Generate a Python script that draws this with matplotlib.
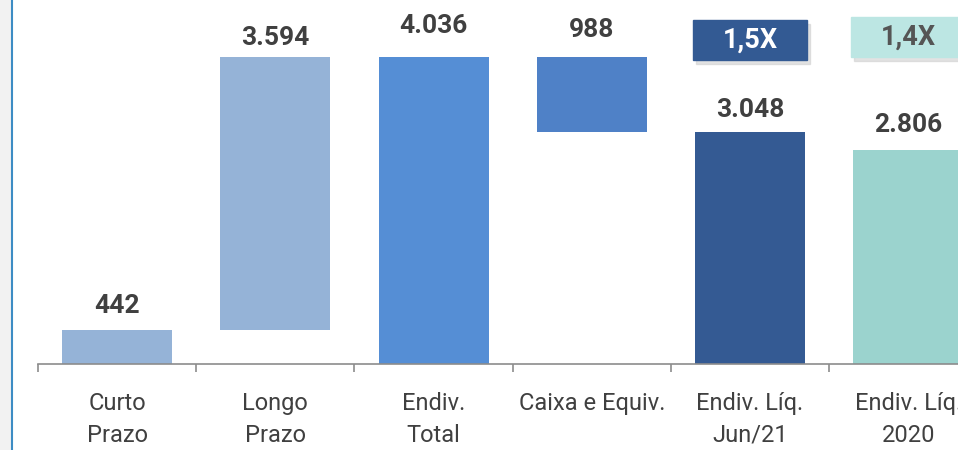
import matplotlib.pyplot as plt
from matplotlib.patches import Rectangle

plt.rcParams['font.family'] = ['Roboto', 'DejaVu Sans']

# Dados (R$ milhões)
categorias = ['Curto\nPrazo', 'Longo\nPrazo', 'Endiv.\nTotal', 'Caixa e Equiv.',
              'Endiv. Líq.\nJun/21', 'Endiv. Líq.\n2020']
valores = [442, 3594, 4036, 988, 3048, 2806]
bases = [0, 442, 0, 3048, 0, 0]
rotulos = ['442', '3.594', '4.036', '988', '3.048', '2.806']
alavancagem = ['1,5X', '1,4X']

cores = ['#95b3d7', '#95b3d7', '#558ed5', '#4f81c7', '#345a93', '#9bd3ce']
pads = [12, 7, 19, 15, 10, 13]

fig = plt.figure(figsize=(9.58, 4.5), dpi=100)
# faixa lateral do slide
fig.patches.append(Rectangle((0, 0), 11 / 958, 1, transform=fig.transFigure,
                             color='#f2f2f2', zorder=0))
fig.lines.append(plt.Line2D([11.5 / 958, 11.5 / 958], [0, 1], transform=fig.transFigure,
                            color='#3d8cc4', lw=1.5))

ax = fig.add_axes([38 / 958, 86 / 450, 1 - 38 / 958, 1 - 86 / 450])
x = list(range(len(valores)))
ax.bar(x, valores, bottom=bases, width=0.695, color=cores, zorder=2)

for i in x:
    topo = bases[i] + valores[i]
    ax.annotate(rotulos[i], (i, topo), xytext=(0, pads[i] / 1.39), textcoords='offset points',
                ha='center', va='bottom', fontsize=19, fontweight='bold', color='#404040')

# caixas de alavancagem
caixas = [(4, 3996, '#335a93', 'white'), (5, 4036, '#bce6e3', '#555555')]
for (i, y0, cor, corTxt), txt in zip(caixas, alavancagem):
    larg, alt = 0.72, 530
    ax.add_patch(Rectangle((i - larg / 2 + 0.02, y0 - 60), larg, alt, color='#d0d0d0',
                           alpha=0.6, zorder=3, clip_on=False))
    ax.add_patch(Rectangle((i - larg / 2, y0), larg, alt, color=cor, zorder=4, clip_on=False))
    ax.text(i, y0 + alt / 2, txt, ha='center', va='center', fontsize=19.5,
            fontweight='bold', color=corTxt, zorder=5)

for s in ['top', 'right', 'left']:
    ax.spines[s].set_visible(False)
ax.spines['bottom'].set_color('#8c8c8c')
ax.spines['bottom'].set_linewidth(1.2)
ax.set_yticks([])
ax.set_xticks(x)
ax.set_xticklabels(categorias, fontsize=17, color='#404040', linespacing=1.5)
ax.tick_params(axis='x', which='major', length=0, pad=20)
ax.set_xticks([i - 0.5 for i in range(len(valores) + 1)], minor=True)
ax.tick_params(axis='x', which='minor', length=6, color='#8c8c8c', width=1.2, direction='out')
ax.set_xlim(-0.5, 5.315)
ax.set_ylim(0, 4783)

fig.savefig('out.png', dpi=100)
